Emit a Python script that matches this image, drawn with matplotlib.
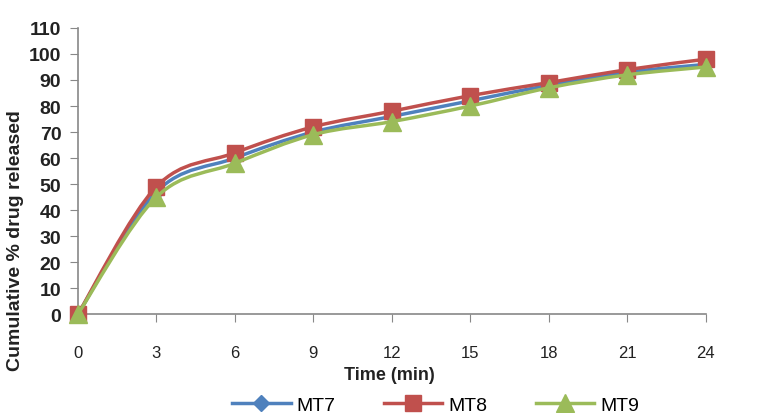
import numpy as np
import matplotlib.pyplot as plt
from matplotlib.path import Path
from matplotlib.patches import PathPatch
from matplotlib.lines import Line2D

# Time points (min) and cumulative % drug released
time = [0, 3, 6, 9, 12, 15, 18, 21, 24]
mt7 = [0, 47, 60, 70, 76, 82, 88, 93, 96]
mt8 = [0, 49, 62, 72, 78, 84, 89, 94, 98]
mt9 = [0, 45, 58, 69, 74, 80, 87, 92, 95]

plt.rcParams['font.family'] = ['Liberation Sans', 'DejaVu Sans']


def smooth_path(x, y):
    # Excel-style smoothed line: cubic Bezier segments through the data points
    pts = np.column_stack([x, y]).astype(float)
    verts = [pts[0]]
    codes = [Path.MOVETO]
    n = len(pts)
    for i in range(n - 1):
        p0 = pts[max(i - 1, 0)]
        p1 = pts[i]
        p2 = pts[i + 1]
        p3 = pts[min(i + 2, n - 1)]
        c1 = p1 + (p2 - p0) / 6.0
        c2 = p2 - (p3 - p1) / 6.0
        verts += [c1, c2, p2]
        codes += [Path.CURVE4] * 3
    return Path(verts, codes)


fig = plt.figure(figsize=(7.64, 4.14), dpi=100)
ax = fig.add_axes([0.102, 0.239, 0.822, 0.691])

series = [('MT7', mt7, '#4F81BD', 'D', 8),
          ('MT8', mt8, '#C0504D', 's', 12),
          ('MT9', mt9, '#9BBB59', '^', 13)]
handles = []
for i, (name, vals, col, mk, ms) in enumerate(series):
    ax.add_patch(PathPatch(smooth_path(time, vals), facecolor='none', edgecolor=col,
                           linewidth=2.5, zorder=2 + i, clip_on=False))
    ax.plot(time, vals, linestyle='none', marker=mk, markersize=ms, color=col,
            zorder=2.5 + i, clip_on=False)
    handles.append(Line2D([], [], color=col, marker=mk, markersize=ms, linewidth=2.5, label=name))

ax.set_xlim(0, 24)
ax.set_ylim(0, 110)
ax.set_xticks(time)
ax.set_yticks(np.arange(0, 111, 10))
ax.tick_params(axis='x', direction='out', length=6, pad=16, labelsize=12, color='#888888', labelcolor='#222222')
ax.tick_params(axis='y', direction='out', length=6, pad=6, labelsize=14, color='#888888', labelcolor='#222222')
for lbl in ax.get_yticklabels():
    lbl.set_fontweight('bold')

for s in ['top', 'right']:
    ax.spines[s].set_visible(False)
for s in ['left', 'bottom']:
    ax.spines[s].set_color('#888888')
    ax.spines[s].set_linewidth(1.2)

fig.text(0.02, 0.42, 'Cumulative % drug released', rotation=90, ha='center', va='center',
         fontsize=14, fontweight='bold', color='#222222')
fig.text(0.51, 0.092, 'Time (min)', ha='center', va='center', fontsize=13, fontweight='bold', color='#222222')

fig.legend(handles=handles, loc='center', bbox_to_anchor=(0.57, 0.02), ncol=3, frameon=False, fontsize=14,
           handlelength=3, columnspacing=2.5, handletextpad=0.3)

fig.savefig('out.png', dpi=100)
